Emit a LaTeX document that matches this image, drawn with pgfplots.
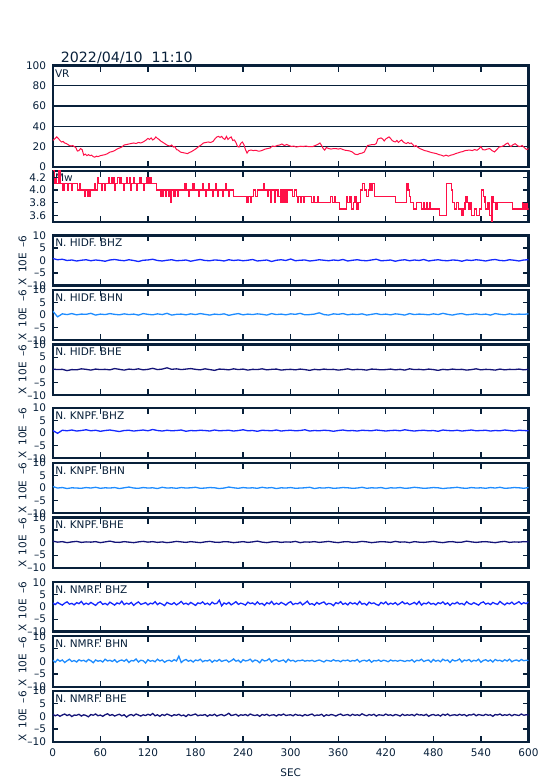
\documentclass[border=0pt]{standalone}
\usepackage{fontspec}
\setmainfont{DejaVu Sans}
\usepackage{pgfplots}
\pgfplotsset{compat=1.18}
\definecolor{framec}{RGB}{8,32,58}
\definecolor{cred}{RGB}{255,16,72}
\definecolor{cz}{RGB}{20,40,255}
\definecolor{cn}{RGB}{30,140,255}
\definecolor{ce}{RGB}{20,20,120}
\newcommand{\tf}{\fontsize{10.5}{12}\selectfont}
\tikzset{plab/.style={anchor=north west, inner sep=0pt, font=\tf, text=framec}}
\pgfplotsset{
  base/.style={
    scale only axis, width=475.7pt, xmin=0, xmax=600, anchor=south west,
    xtick={0,60,...,600}, xticklabels={},
    axis line style={framec, line width=2.4pt},
    major tick length=0pt,
    ticklabel style={font=\tf, text=framec},
    yticklabel style={inner sep=0pt, xshift=-6.5pt, anchor=east},
    xticklabel style={inner sep=0pt, yshift=-7pt, anchor=north},
    clip=true,
  },
  seis/.style={base, ymin=-10, ymax=10, ytick={-10,-5,0,5,10},
    yticklabels={–10,–5,0,5,10},
    ylabel={X\hspace{5.5pt}10E\hspace{5.5pt}–6},
    every axis y label/.style={at={([xshift=-30.3pt]axis description cs:0,0.5)}, rotate=90, anchor=center, font=\tf, text=framec, inner sep=0pt},
  },
  dat/.style={line width=1.3pt},
}
% inward tick marks at every 60 s, bottom (#1 to #2) and top (#3 to #4), in axis units
\newcommand{\xtk}[4]{\pgfplotsinvokeforeach{60,120,180,240,300,360,420,480,540}{\draw[framec,line width=1.3pt] (axis cs:##1,#1) -- (axis cs:##1,#2) (axis cs:##1,#3) -- (axis cs:##1,#4);}}
% inward tick marks on left and right at the given y values
\newcommand{\ytk}[1]{\pgfplotsinvokeforeach{#1}{\draw[framec,line width=1.3pt] (axis cs:0,##1) -- (axis cs:7,##1) (axis cs:600,##1) -- (axis cs:593,##1);}}
\begin{document}
\begin{tikzpicture}
\useasboundingbox (0,0) rectangle (554pt,781pt);
\node[anchor=base west, inner sep=0pt, font=\fontsize{14.2}{16}\selectfont, text=framec] at (60.7pt,718.3pt) {2022/04/10\ \ 11:10};

% VR
\begin{axis}[base, at={(52.8pt,614.2pt)}, height=101.3pt,
  ymin=0, ymax=100, ytick={0,20,...,100}, yticklabels={0,20,40,60,80,100},
  ymajorgrids, grid style={framec, line width=1.2pt}]
\node[plab] at ([xshift=2pt,yshift=-3.8pt]rel axis cs:0,1) {VR};
\addplot[cred, line width=1pt] coordinates {
(0,26)(3,28)(5,29.5)(7,28)(9,26)(11,24.5)(13,25)(15,23.5)(17,23)(19,22)(21,21)(23,20.5)(25,21)(27,20)(29,19)(31,15.5)(33,16)(35,18)(37,17)(39,11.5)(41,12.5)(43,11)(45,12)(47,11)(49,11.5)(51,10)(53,9.5)(55,10.5)(57,10)(60,11)(63,11.5)(66,12)(69,13)(72,14.5)(75,15)(78,16)(81,17.5)(84,18.5)(87,19.5)(90,21.5)(93,22)(96,22.5)(99,23)(102,23.5)(105,23)(108,24)(111,23.5)(114,24.5)(117,26)(120,28)(122,27)(124,28.5)(126,26.5)(128,27.5)(130,29.5)(132,28)(134,27)(136,25.5)(139,24)(142,22.5)(145,21)(148,20.5)(150,21.5)(152,19.5)(154,20)(156,17)(158,16.5)(161,14.5)(164,14)(167,13.5)(170,13)(172,14)(175,15)(178,16.5)(181,18)(184,20)(187,21.5)(190,23.5)(193,24)(196,24.5)(199,24)(202,25)(205,28)(207,29.5)(209,30)(211,29)(213,30)(215,28)(217,27)(219,30)(221,27)(223,28.5)(225,29.5)(227,26)(229,26.5)(231,24)(233,20)(235,19.5)(237,23)(239,24.5)(241,22)(243,17)(245,13.5)(247,16)(250,16.5)(253,16)(256,16.3)(259,15.5)(262,15.6)(265,16.5)(268,17.5)(271,18)(274,18.5)(277,20.5)(280,20)(283,21)(286,21.5)(289,22.5)(292,21)(295,22)(298,21)(301,20)(304,20.5)(307,19.5)(310,20)(313,20.3)(316,20)(319,20.5)(322,20)(325,19.8)(328,20)(331,21)(334,22)(337,23.5)(339,21)(341,18)(343,16.5)(345,19)(348,18)(351,17.5)(354,18)(357,18)(360,17.5)(363,18)(366,17)(369,16.3)(372,16)(375,15.5)(378,14.5)(381,12.5)(384,12)(387,13)(390,13.5)(393,14.7)(395,18)(397,21)(400,21.5)(403,22)(406,22)(408,23)(410,27.5)(412,28)(414,28.5)(416,27.5)(418,25.5)(420,27.5)(422,28.5)(424,29.5)(426,28)(428,26)(430,25)(432,24.5)(434,26)(436,24)(438,25.5)(440,26.5)(442,24.5)(444,23.5)(446,23)(448,24)(450,23)(452,23.5)(454,22)(456,20)(458,21)(460,19.5)(463,18)(466,17)(469,16)(472,15.5)(475,14.7)(478,14)(481,13.5)(484,13)(487,12)(490,11.5)(493,10.5)(496,11.5)(499,10.5)(502,11.5)(505,12)(508,13)(511,13.7)(514,14.5)(517,15)(520,16)(523,16.3)(526,16.5)(529,16)(532,17)(535,16.3)(538,18)(540,20)(542,17)(545,16.6)(548,17.5)(551,18)(554,16)(557,14.7)(560,17)(563,19.5)(566,20)(569,21)(572,22.8)(574,23.5)(576,21)(578,20)(580,21.5)(583,22.8)(586,21)(588,20)(590,20.2)(592,21)(594,19.5)(596,18)(598,17)(600,18)};
\xtk{0}{6}{100}{94}
\end{axis}

% Mw
\begin{axis}[base, at={(52.8pt,559.2pt)}, height=51pt,
  ymin=3.5, ymax=4.3, ytick={3.6,3.8,4.0,4.2}, yticklabels={3.6,3.8,4.0,4.2}]
\node[plab] at ([xshift=2pt,yshift=-3pt]rel axis cs:0,1) {Mw};
\addplot[cred, dat, const plot] coordinates {
(0,4.3)(2,4.1)(4,4.2)(5,4.1)(8,4.3)(9,4.1)(13,4.0)(14,4.1)(19,4.0)(20,4.1)(24,4.0)(25,4.1)(31,4.0)(34,4.1)(35,4.0)(40,3.9)(41,4.0)(44,3.9)(45,4.0)(46,3.9)(47,4.0)(53,4.1)(54,4.0)(56,4.2)(58,4.1)(61,4.0)(62,4.1)(65,4.0)(66,4.1)(70,4.2)(71,4.1)(74,4.2)(75,4.1)(77,4.2)(78,4.0)(79,4.1)(82,4.2)(84,4.1)(86,4.2)(87,4.1)(89,4.0)(90,4.1)(93,4.2)(94,4.1)(97,4.2)(98,4.0)(99,4.1)(102,4.2)(103,4.1)(106,4.0)(107,4.1)(110,4.2)(112,4.1)(115,4.0)(116,4.1)(119,4.2)(120,4.1)(122,4.2)(124,4.1)(131,4.0)(136,3.9)(137,4.0)(139,3.9)(140,4.0)(142,3.9)(143,4.0)(146,3.9)(147,4.0)(149,3.8)(150,4.0)(153,3.9)(154,4.0)(157,3.9)(158,4.0)(166,4.1)(168,4.0)(171,3.9)(172,4.0)(177,4.1)(179,4.0)(184,3.9)(185,4.0)(189,4.1)(190,4.0)(193,3.9)(194,4.0)(197,4.1)(198,4.0)(201,3.9)(202,4.0)(205,4.1)(206,4.0)(208,3.9)(209,4.0)(214,3.9)(215,4.0)(218,4.1)(219,4.0)(222,3.9)(223,4.0)(228,3.9)(244,3.8)(245,3.9)(246,3.8)(247,3.9)(249,3.8)(250,3.9)(253,4.0)(256,3.9)(258,4.0)(266,4.1)(267,4.0)(271,3.9)(272,4.0)(275,3.8)(276,4.0)(280,3.8)(281,4.0)(284,3.9)(287,4.0)(288,3.8)(289,4.0)(290,3.8)(291,4.0)(292,3.8)(293,4.0)(295,3.8)(296,4.0)(302,3.9)(305,4.0)(307,3.9)(309,3.8)(310,3.9)(312,3.8)(313,3.9)(316,3.8)(317,3.9)(326,3.8)(329,3.9)(330,3.8)(334,3.9)(335,3.8)(350,3.9)(353,3.8)(356,3.9)(357,3.8)(362,3.7)(370,3.9)(372,3.8)(375,3.9)(377,3.7)(379,3.8)(381,3.9)(383,3.7)(385,3.8)(388,4.0)(391,4.1)(393,4.0)(396,3.9)(398,4.0)(400,4.1)(402,4.0)(403,4.1)(406,3.9)(432,3.8)(446,4.1)(448,4.0)(450,3.9)(451,3.8)(455,3.7)(459,3.8)(465,3.7)(468,3.8)(469,3.7)(472,3.8)(473,3.7)(475,3.8)(476,3.7)(488,3.6)(497,4.1)(503,4.0)(504,3.8)(507,3.7)(509,3.8)(512,3.7)(516,3.6)(518,3.7)(520,3.8)(521,3.9)(523,3.8)(525,3.7)(527,3.8)(528,3.6)(532,3.7)(534,3.6)(538,3.7)(541,4.0)(543,3.9)(545,3.8)(546,3.7)(549,3.8)(550,3.7)(551,3.6)(553,3.5)(554,3.9)(556,3.8)(558,3.7)(559,3.8)(560,3.7)(561,3.8)(580,3.7)(593,3.8)(595,3.7)(596,3.8)(598,3.7)(600,3.7)};
\xtk{3.5}{3.594}{4.3}{4.206} \ytk{3.6,3.8,4.0,4.2}
\end{axis}

% HIDF BHZ
\begin{axis}[seis, at={(52.8pt,495.5pt)}, height=50pt]
\node[plab] at ([xshift=2.3pt,yshift=-3.5pt]rel axis cs:0,1) {N. HIDF. BHZ};
\addplot[cz, dat] table[header=false, row sep=\\, x expr=\coordindex*6, y index=0] {
0.8\\0.3\\0.5\\0.0\\0.2\\-0.2\\0.1\\0.3\\-0.1\\0.2\\
0.0\\-0.3\\0.2\\0.4\\0.1\\-0.1\\0.3\\0.0\\-0.4\\0.1\\
0.2\\0.5\\0.0\\-0.2\\0.1\\0.3\\-0.1\\0.0\\0.2\\-0.3\\
0.1\\0.4\\0.0\\-0.1\\0.2\\0.1\\-0.2\\0.3\\0.0\\0.2\\
-0.1\\0.1\\0.4\\-0.2\\0.0\\0.2\\-0.4\\0.1\\0.3\\0.0\\
0.6\\-0.1\\0.1\\0.2\\-0.2\\0.0\\0.3\\0.1\\-0.1\\0.2\\
0.0\\0.4\\-0.2\\0.1\\0.3\\0.0\\-0.1\\0.2\\0.5\\-0.1\\
0.0\\0.2\\-0.3\\0.1\\0.3\\-0.1\\0.2\\0.0\\0.4\\-0.2\\
0.1\\0.3\\0.0\\-0.1\\0.2\\0.1\\-0.3\\0.2\\0.0\\0.3\\
0.1\\-0.2\\0.2\\0.4\\0.0\\-0.1\\0.3\\0.1\\-0.2\\0.2\\
0.3\\};
\xtk{-10}{-7.6}{10}{7.6} \ytk{-5,5}
\end{axis}

% HIDF BHN
\begin{axis}[seis, at={(52.8pt,440.8pt)}, height=50.2pt]
\node[plab] at ([xshift=2.3pt,yshift=-3.5pt]rel axis cs:0,1) {N. HIDF. BHN};
\addplot[cn, dat] table[header=false, row sep=\\, x expr=\coordindex*6, y index=0] {
1.6\\-0.7\\0.5\\0.2\\0.6\\0.1\\0.4\\0.3\\0.7\\0.0\\
0.4\\0.2\\0.6\\0.3\\0.1\\0.5\\0.2\\0.4\\0.0\\0.6\\
0.3\\0.1\\0.5\\0.2\\0.7\\0.0\\0.3\\0.4\\0.1\\0.5\\
0.2\\0.6\\0.3\\0.0\\0.4\\0.2\\0.5\\-0.1\\0.3\\0.6\\
0.1\\0.4\\0.2\\0.5\\0.3\\0.0\\0.6\\0.2\\0.4\\0.1\\
0.5\\0.3\\0.7\\0.1\\0.2\\0.4\\0.9\\0.2\\0.0\\0.5\\
0.3\\0.6\\0.1\\0.4\\0.2\\0.5\\0.0\\0.3\\0.6\\0.2\\
0.4\\0.1\\0.5\\0.3\\0.0\\0.6\\0.2\\0.4\\0.3\\0.1\\
0.5\\0.2\\0.7\\0.3\\0.0\\0.4\\0.6\\0.1\\0.3\\0.5\\
0.2\\0.4\\0.0\\0.6\\0.3\\0.1\\0.5\\0.2\\0.4\\0.3\\
0.5\\};
\xtk{-10}{-7.6}{10}{7.6} \ytk{-5,5}
\end{axis}

% HIDF BHE
\begin{axis}[seis, at={(52.8pt,385.8pt)}, height=50.7pt]
\node[plab] at ([xshift=2.3pt,yshift=-3.5pt]rel axis cs:0,1) {N. HIDF. BHE};
\addplot[ce, dat] table[header=false, row sep=\\, x expr=\coordindex*6, y index=0] {
0.3\\0.1\\0.2\\-0.3\\0.1\\0.0\\0.4\\0.2\\-0.1\\0.3\\
0.1\\0.2\\0.0\\0.5\\0.2\\-0.1\\0.3\\0.1\\0.4\\0.0\\
0.2\\0.6\\0.1\\0.3\\0.8\\0.2\\0.4\\0.1\\0.3\\0.5\\
0.2\\0.0\\0.4\\0.1\\-0.2\\0.3\\0.2\\0.0\\0.4\\0.1\\
0.3\\-0.1\\0.2\\0.1\\0.4\\0.0\\0.2\\0.3\\-0.1\\0.1\\
0.2\\0.0\\0.3\\0.1\\-0.2\\0.2\\0.0\\0.3\\0.1\\0.2\\
-0.1\\0.1\\0.4\\0.0\\0.2\\0.1\\-0.1\\0.3\\0.2\\0.0\\
0.1\\0.3\\0.0\\0.2\\-0.1\\0.4\\0.1\\0.2\\0.0\\0.3\\
0.1\\-0.2\\0.2\\0.0\\0.3\\0.1\\0.2\\-0.1\\0.1\\0.4\\
0.0\\0.2\\0.1\\-0.1\\0.3\\0.0\\0.2\\0.1\\0.3\\0.0\\
0.2\\};
\xtk{-10}{-7.6}{10}{7.6} \ytk{-5,5}
\end{axis}

% KNPF BHZ
\begin{axis}[seis, at={(52.8pt,322.7pt)}, height=50.5pt]
\node[plab] at ([xshift=2.3pt,yshift=-3.5pt]rel axis cs:0,1) {N. KNPF. BHZ};
\addplot[cz, dat] table[header=false, row sep=\\, x expr=\coordindex*6, y index=0] {
1.0\\-0.1\\1.1\\0.9\\1.2\\0.8\\1.0\\1.3\\0.9\\1.1\\
0.7\\1.0\\1.2\\0.9\\0.6\\1.0\\1.1\\0.8\\1.0\\1.2\\
0.9\\1.4\\1.0\\0.8\\1.1\\0.9\\1.0\\1.2\\0.7\\1.0\\
0.9\\1.1\\1.0\\0.8\\1.2\\0.9\\1.0\\1.1\\0.8\\1.0\\
1.3\\0.9\\1.0\\0.7\\1.1\\1.0\\0.9\\1.2\\0.8\\1.0\\
1.1\\0.9\\1.0\\1.3\\0.8\\1.0\\0.9\\1.1\\1.0\\0.7\\
1.0\\1.2\\0.9\\1.0\\0.8\\1.1\\1.0\\0.9\\1.2\\1.0\\
0.8\\1.0\\1.1\\0.9\\1.3\\1.0\\0.8\\1.0\\1.1\\0.9\\
1.0\\0.7\\1.2\\1.0\\0.9\\1.1\\0.8\\1.0\\1.2\\0.9\\
1.0\\1.1\\0.8\\1.0\\0.9\\1.2\\1.0\\0.8\\1.1\\1.0\\
0.9\\};
\xtk{-10}{-7.6}{10}{7.6} \ytk{-5,5}
\end{axis}

% KNPF BHN
\begin{axis}[seis, at={(52.8pt,267.7pt)}, height=50.5pt]
\node[plab] at ([xshift=2.3pt,yshift=-3.5pt]rel axis cs:0,1) {N. KNPF. BHN};
\addplot[cn, dat] table[header=false, row sep=\\, x expr=\coordindex*6, y index=0] {
0.6\\0.0\\0.2\\-0.2\\0.1\\0.0\\-0.1\\0.2\\0.0\\0.3\\
-0.1\\0.1\\0.0\\0.2\\-0.2\\0.1\\0.4\\0.0\\-0.1\\0.2\\
0.0\\0.1\\-0.2\\0.3\\0.0\\0.1\\-0.1\\0.2\\0.0\\0.1\\
0.3\\-0.1\\0.0\\0.2\\0.1\\-0.2\\0.0\\0.4\\0.1\\-0.1\\
0.2\\0.0\\0.1\\-0.1\\0.3\\0.0\\0.2\\-0.2\\0.1\\0.0\\
0.2\\-0.1\\0.0\\0.1\\0.3\\-0.2\\0.1\\0.0\\0.2\\-0.1\\
0.0\\0.2\\0.1\\-0.1\\0.0\\0.3\\-0.1\\0.1\\0.0\\0.2\\
-0.2\\0.1\\0.0\\0.2\\-0.1\\0.0\\0.3\\0.1\\-0.1\\0.0\\
0.2\\0.1\\-0.2\\0.0\\0.1\\0.3\\0.0\\-0.1\\0.2\\0.0\\
0.1\\-0.1\\0.2\\0.0\\0.3\\-0.1\\0.0\\0.2\\0.1\\-0.1\\
0.2\\};
\xtk{-10}{-7.6}{10}{7.6} \ytk{-5,5}
\end{axis}

% KNPF BHE
\begin{axis}[seis, at={(52.8pt,213.2pt)}, height=50.3pt]
\node[plab] at ([xshift=2.3pt,yshift=-3.5pt]rel axis cs:0,1) {N. KNPF. BHE};
\addplot[ce, dat] table[header=false, row sep=\\, x expr=\coordindex*6, y index=0] {
0.6\\0.2\\0.4\\0.0\\0.3\\0.5\\0.1\\0.3\\0.2\\0.4\\
0.0\\0.3\\0.6\\0.2\\0.1\\0.4\\0.2\\0.0\\0.3\\0.5\\
0.2\\0.4\\0.1\\0.3\\0.0\\0.2\\0.5\\0.3\\0.1\\0.4\\
0.2\\0.0\\0.3\\0.5\\0.2\\0.1\\0.4\\0.3\\0.0\\0.2\\
0.4\\0.1\\0.3\\0.6\\0.2\\0.0\\0.3\\0.4\\0.1\\0.3\\
0.2\\0.5\\0.0\\0.3\\0.2\\0.4\\0.1\\0.3\\0.5\\0.2\\
0.0\\0.3\\0.4\\0.1\\0.2\\0.5\\0.3\\0.0\\0.2\\0.4\\
0.3\\0.1\\0.5\\0.2\\0.3\\0.0\\0.4\\0.2\\0.1\\0.3\\
0.5\\0.2\\0.0\\0.3\\0.4\\0.1\\0.2\\0.6\\0.3\\0.1\\
0.3\\0.4\\0.2\\0.0\\0.3\\0.5\\0.1\\0.3\\0.2\\0.4\\
0.3\\};
\xtk{-10}{-7.6}{10}{7.6} \ytk{-5,5}
\end{axis}

% NMRF BHZ
\begin{axis}[seis, at={(52.8pt,149.5pt)}, height=49.3pt]
\node[plab] at ([xshift=2.3pt,yshift=-3.5pt]rel axis cs:0,1) {N. NMRF. BHZ};
\addplot[cz, dat] table[header=false, row sep=\\, x expr=\coordindex*3, y index=0] {
1.6\\0.9\\1.8\\1.2\\0.7\\1.5\\2.0\\1.1\\1.4\\0.8\\
1.7\\1.3\\2.2\\0.9\\1.5\\1.0\\1.8\\1.2\\0.6\\1.6\\
2.1\\1.0\\1.4\\0.8\\1.9\\1.3\\0.7\\1.6\\1.2\\2.3\\
0.9\\1.5\\1.1\\1.8\\0.6\\1.4\\2.0\\1.0\\1.3\\1.7\\
0.8\\1.5\\1.2\\2.1\\0.9\\1.6\\1.1\\0.5\\1.8\\1.3\\
1.0\\1.7\\0.8\\1.4\\2.2\\1.1\\1.5\\0.9\\1.8\\1.2\\
0.6\\1.6\\1.3\\2.0\\1.0\\1.5\\0.8\\1.9\\1.2\\1.4\\
2.7\\0.4\\1.6\\1.1\\1.8\\0.8\\1.4\\2.1\\1.0\\1.5\\
1.2\\0.7\\1.9\\1.3\\1.6\\0.9\\2.0\\1.1\\1.4\\0.6\\
1.7\\1.2\\2.2\\0.9\\1.5\\1.0\\1.8\\1.3\\0.7\\1.6\\
2.1\\0.9\\1.4\\1.2\\1.9\\0.8\\1.5\\2.3\\1.0\\1.3\\
0.7\\1.8\\1.1\\1.6\\2.0\\0.9\\1.4\\1.2\\0.5\\1.7\\
1.3\\2.1\\1.0\\1.5\\0.8\\1.8\\1.2\\1.6\\0.9\\2.2\\
1.1\\1.4\\0.7\\1.9\\1.3\\1.6\\1.0\\0.6\\1.8\\1.2\\
2.0\\0.9\\1.5\\1.1\\1.7\\0.8\\1.4\\2.1\\1.2\\1.6\\
0.9\\1.3\\1.8\\1.0\\2.2\\0.7\\1.5\\1.2\\1.9\\1.1\\
1.4\\0.8\\1.7\\1.3\\2.0\\1.0\\1.6\\0.6\\1.5\\1.2\\
1.9\\1.1\\1.4\\0.8\\2.1\\1.3\\1.0\\1.7\\1.2\\0.7\\
1.6\\2.0\\1.1\\1.5\\0.9\\1.8\\1.3\\1.0\\2.2\\1.4\\
0.8\\1.6\\1.2\\1.9\\1.0\\1.5\\2.1\\1.1\\1.7\\1.3\\
2.0\\};
\xtk{-10}{-7.6}{10}{7.6} \ytk{-5,5}
\end{axis}

% NMRF BHN
\begin{axis}[seis, at={(52.8pt,94.2pt)}, height=50.6pt]
\node[plab] at ([xshift=2.3pt,yshift=-3.5pt]rel axis cs:0,1) {N. NMRF. BHN};
\addplot[cn, dat] table[header=false, row sep=\\, x expr=\coordindex*3, y index=0] {
0.5\\-0.3\\0.8\\0.1\\0.6\\-0.4\\0.3\\0.9\\0.0\\0.4\\
-0.2\\0.7\\0.2\\0.5\\-0.1\\0.8\\0.3\\-0.5\\0.6\\0.1\\
0.4\\-0.2\\0.9\\0.2\\0.5\\0.0\\0.7\\-0.3\\0.3\\0.6\\
0.1\\0.8\\-0.4\\0.4\\0.2\\1.0\\-0.2\\0.5\\0.3\\-0.6\\
0.7\\0.1\\0.4\\-0.1\\0.9\\0.2\\0.6\\-0.3\\0.3\\0.5\\
0.0\\0.7\\0.2\\2.1\\-0.4\\0.4\\0.8\\0.1\\0.5\\-0.2\\
0.6\\0.3\\0.9\\-0.1\\0.4\\0.2\\0.7\\-0.3\\0.5\\0.1\\
0.8\\0.0\\0.4\\0.6\\-0.2\\0.3\\1.0\\0.1\\0.5\\-0.4\\
0.7\\0.2\\0.4\\0.9\\-0.1\\0.6\\0.3\\-0.5\\0.8\\0.2\\
0.4\\1.1\\-0.2\\0.5\\0.7\\0.0\\0.3\\0.6\\-0.3\\0.9\\
0.2\\0.5\\-0.1\\0.4\\0.3\\0.6\\0.1\\0.4\\0.2\\0.5\\
0.0\\0.3\\0.6\\0.2\\-0.2\\0.5\\0.3\\0.1\\0.7\\0.2\\
0.4\\-0.1\\0.5\\0.3\\0.6\\0.0\\0.4\\0.2\\0.8\\-0.2\\
0.3\\0.5\\0.1\\0.7\\-0.3\\0.4\\0.2\\0.6\\0.0\\0.5\\
0.3\\-0.1\\0.6\\0.2\\0.4\\0.1\\0.5\\0.3\\0.0\\0.4\\
0.2\\0.7\\-0.2\\0.5\\0.3\\0.9\\0.0\\0.4\\0.6\\-0.3\\
0.8\\0.1\\0.5\\-0.1\\0.9\\0.3\\0.6\\-0.4\\0.7\\0.2\\
0.4\\1.0\\-0.2\\0.6\\0.3\\0.8\\-0.1\\0.5\\0.2\\0.9\\
-0.3\\0.4\\0.7\\0.1\\0.6\\-0.2\\0.8\\0.3\\0.5\\0.0\\
0.7\\0.2\\0.9\\-0.1\\0.4\\0.6\\0.1\\0.8\\0.3\\0.5\\
0.4\\};
\xtk{-10}{-7.6}{10}{7.6} \ytk{-5,5}
\end{axis}

% NMRF BHE
\begin{axis}[seis, at={(52.8pt,39.2pt)}, height=51pt,
  xticklabels={0,60,120,180,240,300,360,420,480,540,600},
  xlabel={SEC}, xlabel style={at={(axis description cs:0.5,0)}, anchor=north, yshift=-27pt, inner sep=0pt, font=\tf, text=framec}]
\node[plab] at ([xshift=2.3pt,yshift=-3.5pt]rel axis cs:0,1) {N. NMRF. BHE};
\addplot[ce, dat] table[header=false, row sep=\\, x expr=\coordindex*3, y index=0] {
0.8\\0.2\\0.6\\0.0\\0.5\\0.9\\0.3\\0.7\\-0.1\\0.5\\
0.4\\0.8\\0.1\\0.6\\0.3\\-0.2\\0.7\\0.4\\0.9\\0.2\\
0.5\\0.0\\0.6\\1.0\\0.3\\0.7\\0.1\\0.5\\0.8\\0.2\\
0.6\\-0.3\\0.4\\0.7\\0.2\\0.9\\0.5\\0.1\\0.6\\0.3\\
0.8\\0.4\\1.1\\0.2\\0.6\\0.0\\0.7\\0.3\\0.9\\0.5\\
0.1\\0.6\\0.4\\0.8\\0.2\\0.5\\-0.1\\0.7\\0.3\\0.6\\
0.9\\0.2\\0.5\\0.4\\0.7\\0.0\\0.6\\0.3\\0.8\\0.1\\
0.5\\0.7\\0.2\\0.6\\1.2\\0.3\\0.5\\0.8\\0.1\\0.6\\
0.4\\0.7\\0.2\\0.9\\0.5\\0.3\\0.6\\0.0\\0.7\\0.4\\
0.8\\0.2\\0.5\\0.6\\0.1\\0.7\\0.4\\0.9\\0.3\\0.5\\
0.6\\0.2\\0.8\\0.4\\0.5\\0.1\\0.7\\0.3\\0.6\\0.9\\
0.2\\0.5\\0.4\\0.8\\0.0\\0.6\\0.3\\0.7\\0.5\\0.1\\
0.6\\0.9\\0.3\\0.5\\0.7\\0.2\\0.8\\0.4\\0.6\\0.3\\
1.0\\0.5\\0.2\\0.7\\0.4\\0.8\\0.1\\0.6\\0.5\\0.3\\
0.9\\0.4\\0.6\\0.2\\0.7\\0.5\\0.1\\0.8\\0.3\\0.6\\
0.4\\0.7\\0.2\\0.9\\0.5\\0.6\\0.3\\0.8\\0.0\\0.5\\
0.7\\0.3\\0.6\\0.1\\0.8\\0.4\\0.9\\0.2\\0.5\\0.6\\
0.3\\0.8\\0.4\\0.7\\0.1\\0.6\\0.5\\0.9\\0.2\\0.7\\
0.5\\0.3\\0.8\\0.4\\0.6\\0.0\\0.7\\0.5\\0.9\\0.3\\
0.6\\0.4\\0.8\\0.2\\0.7\\0.5\\0.3\\0.9\\0.4\\0.6\\
0.5\\};
\xtk{-10}{-7.6}{10}{7.6} \ytk{-5,5}
\end{axis}
\end{tikzpicture}
\end{document}
